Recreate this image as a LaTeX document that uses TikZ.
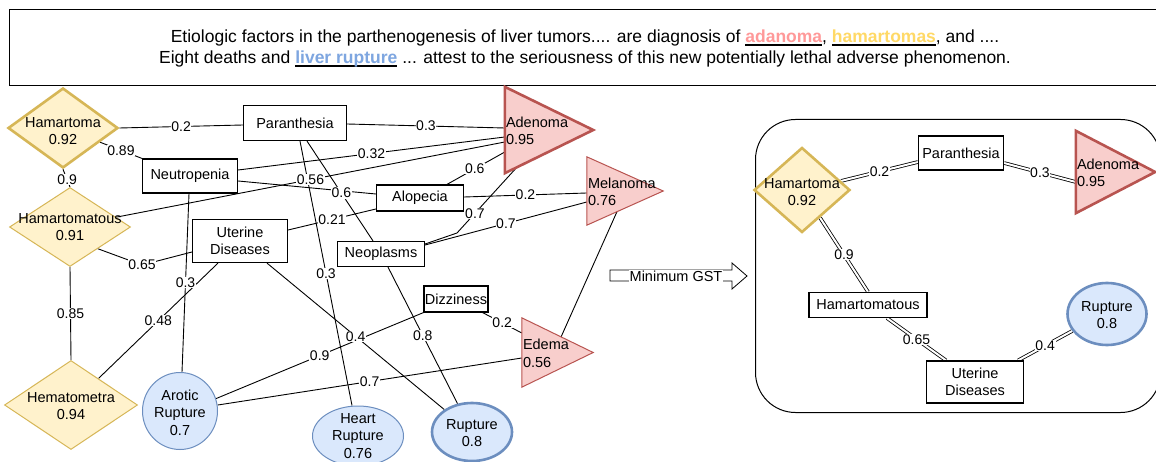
\documentclass[tikz,border=0pt]{standalone}
\usepackage{fontspec}
\setmainfont{Liberation Sans}
\usetikzlibrary{shapes.geometric,calc}
\pgfdeclarelayer{bg}
\pgfsetlayers{bg,main}
\definecolor{dfill}{HTML}{FFF2CC}\definecolor{dline}{HTML}{D6B656}
\definecolor{tfill}{HTML}{F8CECC}\definecolor{tline}{HTML}{B85450}
\definecolor{cfill}{HTML}{DAE8FC}\definecolor{cline}{HTML}{6C8EBF}
\definecolor{cred}{HTML}{FF9999}\definecolor{cyel}{HTML}{FFD966}\definecolor{cblue}{HTML}{7EA6E0}
\newcommand\nfs{\fontsize{14.5}{17.5}\selectfont}
\newcommand\lfs{\fontsize{14}{16}\selectfont}
\newcommand\cfs{\fontsize{17.5}{21}\selectfont}
\newcommand\ulc[2]{\setbox0=\hbox{\bfseries\textcolor{#1}{#2}}\rlap{\rule[-3.5pt]{\wd0}{1.8pt}}\box0\relax}
\newcommand\conn[5]{%
  \begin{pgfonlayer}{bg}\draw[edgeline] #2 -- #3;\end{pgfonlayer}
  \path #2 -- node[lbl,pos=#5] (#1) {#4} #3;}
\newcommand\dconn[5]{%
  \begin{pgfonlayer}{bg}\draw[dblline] #2 -- #3;\end{pgfonlayer}
  \path #2 -- node[lbl,pos=#5] (#1) {#4} #3;}
\tikzset{
  txt/.style={font=\nfs, align=center, inner sep=0pt},
  lbl/.style={font=\lfs, fill=white, inner sep=0.6pt},
  edgeline/.style={line width=0.9pt, black},
  dblline/.style={line width=0.8pt, double=white, double distance=2pt, black},
  rectnode/.style={draw, line width=1.2pt, fill=white, inner sep=0pt, font=\nfs, align=center},
  dia/.style={diamond, draw=dline, fill=dfill, line width=1pt, inner sep=0pt},
  diathick/.style={dia, line width=2.6pt},
  ell/.style={ellipse, draw=cline, fill=cfill, line width=1pt, inner sep=0pt},
  ellthick/.style={ell, line width=2.6pt},
  tribox/.style={inner sep=0pt},
  tri/.style={draw=tline, fill=tfill, line width=1pt},
  trithick/.style={tri, line width=2.6pt},
}
\begin{document}
\begin{tikzpicture}[x=1pt,y=-1pt]
\useasboundingbox (0,0) rectangle (1156,462);
\begin{pgfonlayer}{bg}
\fill[white] (0,0) rectangle (1156,462);
\end{pgfonlayer}

% caption
\node[draw, line width=1pt, minimum width=1153pt, minimum height=76pt, inner sep=0pt, anchor=north west] (capbox) at (9,9) {};
\node[txt, font=\cfs] (cap) at (585,48) {Etiologic factors in the parthenogenesis of liver tumors.... are diagnosis of \ulc{cred}{adanoma}, \ulc{cyel}{hamartomas}, and ....\\Eight deaths and \ulc{cblue}{liver rupture} ... attest to the seriousness of this new potentially lethal adverse phenomenon.};

% ---------- left graph nodes ----------
\node[diathick, minimum width=110pt, minimum height=80pt] (ham) at (63,128) {};
\node[txt] (ham-t) at (63,131) {Hamartoma\\0.92};
\node[dia, minimum width=121pt, minimum height=79pt] (hamous) at (70,227) {};
\node[txt] (hamous-t) at (70,227) {Hamartomatous\\0.91};
\node[dia, minimum width=133pt, minimum height=89pt] (hemato) at (71,405) {};
\node[txt] (hemato-t) at (71,406) {Hematometra\\0.94};

\node[ell, minimum width=75pt, minimum height=77pt] (arotic) at (180,411) {};
\node[txt] (arotic-t) at (180,412.5) {Arotic\\Rupture\\0.7};
\node[ell, minimum width=91pt, minimum height=60pt] (heart) at (358,436) {};
\node[txt] (heart-t) at (358,436) {Heart\\Rupture\\0.76};
\node[ellthick, minimum width=80pt, minimum height=58pt] (rup) at (472,432) {};
\node[txt] (rup-t) at (472,433) {Rupture\\0.8};

\node[rectnode, minimum width=103pt, minimum height=35pt] (par) at (295,123) {Paranthesia};
\node[rectnode, minimum width=95pt, minimum height=34pt] (neu) at (190,176) {Neutropenia};
\node[rectnode, minimum width=95pt, minimum height=43pt] (ud) at (240,241) {Uterine\\Diseases};
\node[rectnode, minimum width=87pt, minimum height=26pt] (alo) at (420,198) {Alopecia};
\node[rectnode, minimum width=87pt, minimum height=25pt] (neo) at (381,254) {Neoplasms};
\node[rectnode, minimum width=64pt, minimum height=26pt] (diz) at (456,299) {Dizziness};

\node[tribox, minimum width=88pt, minimum height=86pt] (adeno) at (549,130) {};
\draw[trithick] (adeno.north west) -- (adeno.east) -- (adeno.south west) -- cycle;
\node[txt, anchor=west, align=left] (adeno-t) at ($(adeno.west)+(1,1)$) {Adenoma\\0.95};
\node[tribox, minimum width=76pt, minimum height=68pt] (mela) at (625,191) {};
\draw[tri] (mela.north west) -- (mela.east) -- (mela.south west) -- cycle;
\node[txt, anchor=west, align=left] (mela-t) at ($(mela.west)+(1,1)$) {Melanoma\\0.76};
\node[tribox, minimum width=71pt, minimum height=69pt] (edema) at (557.5,352.5) {};
\draw[tri] (edema.north west) -- (edema.east) -- (edema.south west) -- cycle;
\node[txt, anchor=west, align=left] (edema-t) at ($(edema.west)+(1,1)$) {Edema\\0.56};

% ---------- left graph edges ----------
\begin{pgfonlayer}{bg}
\draw[edgeline] ($(neu.east)+(0,5)$) -- ($(alo.west)+(0,-4)$);
\end{pgfonlayer}
\conn{l1}{(ham.east)}{($(par.west)+(0,2)$)}{0.2}{0.5}
\conn{l2}{(ham.-21)}{(neu.north west)}{0.89}{0.5}
\conn{l3}{(ham.south)}{(hamous.north)}{0.9}{0.6}
\conn{l4}{(hamous.south)}{(hemato.north)}{0.85}{0.5}
\coordinate (b065) at (142,265);
\begin{pgfonlayer}{bg}
\draw[edgeline] (hamous.-38) -- (b065) -- ($(ud.west)+(0,11)$);
\end{pgfonlayer}
\node[lbl] (l5) at (b065) {0.65};
\conn{l6}{(hamous.12)}{($(adeno.west)+(0,12)$)}{0.56}{0.5}
\conn{l7}{($(par.east)+(0,1)$)}{($(adeno.west)+(0,-2)$)}{0.3}{0.5}
\conn{l8}{($(neu.east)+(0,-6)$)}{($(adeno.west)+(0,7)$)}{0.32}{0.5}
\conn{l10}{($(par.south)+(12,0)$)}{($(neo.north)+(-8,0)$)}{0.6}{0.52}
\conn{l11}{($(par.south)+(5,0)$)}{($(heart.north)+(-6,0)$)}{0.3}{0.5}
\conn{l12}{($(alo.north)+(27,0)$)}{($(adeno.west)+(0,22)$)}{0.6}{0.48}
\conn{l13}{($(alo.east)+(0,-1)$)}{($(mela.west)+(0,2)$)}{0.2}{0.5}
\conn{l14}{($(ud.east)+(0,-11)$)}{($(alo.west)+(0,11)$)}{0.21}{0.5}
\coordinate (b07) at (457,233);
\begin{pgfonlayer}{bg}
\draw[edgeline] ($(neo.east)+(0,-10)$) -- (b07) -- ($(adeno.south west)!0.136!(adeno.east)$);
\end{pgfonlayer}
\path (b07) -- node[lbl,pos=0.3] (l15) {0.7} ($(adeno.south west)!0.136!(adeno.east)$);
\conn{l16}{($(neo.east)+(0,-9)$)}{($(mela.west)+(0,11)$)}{0.7}{0.5}
\conn{l17}{($(neo.south)+(7,0)$)}{(rup.117)}{0.8}{0.5}
\conn{l18}{($(neu.south)+(-1,0)$)}{($(arotic.north)+(2,0)$)}{0.3}{0.5}
\conn{l19}{($(ud.south)+(-22,0)$)}{(hemato.44)}{0.48}{0.5}
\conn{l20}{($(ud.south)+(27,0)$)}{(rup.141)}{0.4}{0.5}
\conn{l21}{(arotic.19)}{(diz.south west)}{0.9}{0.5}
\conn{l22}{(arotic.9)}{($(edema.west)+(0,5.5)$)}{0.7}{0.5}
\conn{l23}{($(diz.south east)+(-6,0)$)}{($(edema.west)+(0,-19.5)$)}{0.2}{0.5}
\begin{pgfonlayer}{bg}
\draw[edgeline] ($(mela.south west)!0.395!(mela.east)$) -- ($(edema.north west)!0.55!(edema.east)$);
\end{pgfonlayer}

% ---------- arrow ----------
\draw[line width=0.8pt, fill=white] (610,270) -- (732,270) -- (732,263) -- (747,276) -- (732,289) -- (732,281) -- (610,281) -- cycle;
\node[txt, fill=white, inner sep=0.5pt] (gst) at (676,276) {Minimum GST};

% ---------- right panel ----------
\node[draw, rounded corners=40pt, line width=1pt, minimum width=405pt, minimum height=293pt, inner sep=0pt, anchor=north west] (gstbox) at (755,119) {};
\node[diathick, minimum width=96pt, minimum height=85pt] (rham) at (802,190) {};
\node[txt] (rham-t) at (802,192) {Hamartoma\\0.92};
\node[rectnode, minimum width=85pt, minimum height=34pt] (rpar) at (961,153) {Paranthesia};
\node[tribox, minimum width=79pt, minimum height=82pt] (radeno) at (1115.5,172) {};
\draw[trithick] (radeno.north west) -- (radeno.east) -- (radeno.south west) -- cycle;
\node[txt, anchor=west, align=left] (radeno-t) at ($(radeno.west)+(1,1)$) {Adenoma\\0.95};
\node[rectnode, minimum width=118pt, minimum height=25pt] (rhamous) at (868,305) {Hamartomatous};
\node[rectnode, minimum width=97pt, minimum height=42pt] (rud) at (975,382) {Uterine\\Diseases};
\node[ellthick, minimum width=79pt, minimum height=62pt] (rrup) at (1107,314) {};
\node[txt] (rrup-t) at (1107,315) {Rupture\\0.8};

\dconn{r1}{(rham.13)}{($(rpar.west)+(0,9)$)}{0.2}{0.5}
\dconn{r2}{($(rpar.east)+(0,10)$)}{($(radeno.west)+(0,10)$)}{0.3}{0.5}
\dconn{r3}{(rham.-57)}{(rhamous.north)}{0.9}{0.5}
\dconn{r4}{($(rhamous.south)+(19,0)$)}{($(rud.north)+(-29,0)$)}{0.65}{0.5}
\dconn{r5}{($(rud.north east)+(-6,0)$)}{(rrup.206)}{0.4}{0.5}
\end{tikzpicture}
\end{document}
